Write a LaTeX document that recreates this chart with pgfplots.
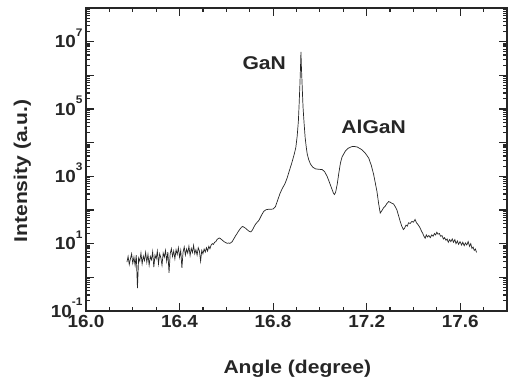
\documentclass[border=0pt]{standalone}
\usepackage{fontspec}
\setmainfont{Liberation Sans}
\newfontfamily\labfont{Liberation Sans}[FakeStretch=1.14]
\newfontfamily\tickfont{Liberation Sans}[FakeStretch=1.08]
\usepackage{pgfplots}
\usepackage{pgfplotstable}
\pgfplotsset{compat=1.18}
\pgfplotstableread{
x y
16.175 2.82
16.180 4.17
16.185 2.40
16.190 3.55
16.195 5.01
16.200 2.63
16.205 3.98
16.210 2.24
16.215 4.57
16.220 0.48
16.225 3.80
16.230 3.02
16.235 5.25
16.240 2.51
16.245 4.27
16.250 3.16
16.255 5.50
16.260 2.82
16.265 4.79
16.270 2.29
16.275 4.17
16.280 3.31
16.285 5.75
16.290 2.00
16.295 4.57
16.300 3.55
16.305 6.03
16.310 2.51
16.315 5.01
16.320 3.80
16.325 2.29
16.330 5.25
16.335 3.98
16.340 6.31
16.345 3.02
16.350 5.62
16.355 1.35
16.360 5.01
16.365 7.08
16.370 4.17
16.375 6.03
16.380 3.55
16.385 6.61
16.390 4.79
16.395 7.59
16.400 3.98
16.405 6.31
16.410 1.91
16.415 5.62
16.420 7.94
16.425 4.57
16.430 6.92
16.435 5.25
16.440 8.32
16.445 4.47
16.450 7.24
16.455 5.50
16.460 8.91
16.465 5.01
16.470 6.61
16.475 4.57
16.480 7.59
16.485 6.03
16.490 3.02
16.495 6.31
16.500 5.01
16.505 6.92
16.510 5.62
16.515 7.59
16.520 6.03
16.525 8.32
16.530 7.08
16.535 9.12
16.540 10.0
16.545 9.55
16.550 11.0
16.555 11.5
16.560 13.2
16.565 14.1
16.570 14.8
16.575 14.1
16.580 13.2
16.585 12.3
16.590 11.5
16.595 11.0
16.600 10.5
16.605 10.2
16.610 10.5
16.615 10.2
16.620 10.7
16.625 11.5
16.630 13.2
16.635 15.1
16.640 17.4
16.645 19.5
16.650 22.4
16.655 25.1
16.660 28.2
16.665 30.9
16.670 32.4
16.675 30.9
16.680 29.5
16.685 27.5
16.690 25.7
16.695 24.0
16.700 22.9
16.705 22.4
16.710 24.5
16.715 28.2
16.720 33.1
16.725 38.0
16.730 41.7
16.735 45.7
16.740 50.1
16.750 69.2
16.760 91.2
16.770 102
16.780 105
16.790 105
16.800 107
16.810 126
16.820 200
16.830 316
16.840 447
16.850 589
16.860 891
16.870 1514
16.880 2512
16.890 4467
16.897 7079
16.903 15850
16.908 43650
16.911 125900
16.914 416900
16.917 1585000
16.919 5012000
16.921 1778000
16.923 794300
16.925 354800
16.928 112200
16.932 41690
16.937 14130
16.942 7079
16.946 4571
16.952 3162
16.960 2291
16.970 1862
16.982 1660
16.995 1622
17.010 1585
17.020 1380
17.031 1000
17.042 631
17.052 407
17.058 316
17.062 288
17.067 331
17.074 575
17.081 1259
17.088 2512
17.095 3802
17.109 5623
17.120 6761
17.135 7586
17.145 7762
17.160 7413
17.180 6166
17.195 4786
17.209 3467
17.220 2089
17.230 1122
17.237 631
17.244 355
17.251 158
17.258 81.3
17.265 95.5
17.272 115
17.280 132
17.287 158
17.294 178
17.301 170
17.308 158
17.315 151
17.322 126
17.329 102
17.336 69.2
17.343 46.8
17.350 33.1
17.357 26.3
17.362 28.8
17.368 35.5
17.374 33.1
17.379 41.7
17.386 39.8
17.393 45.7
17.400 43.7
17.407 52.5
17.413 41.7
17.418 38.0
17.424 33.1
17.429 28.8
17.434 24.0
17.440 20.0
17.445 16.6
17.450 14.5
17.455 18.2
17.460 15.8
17.466 17.4
17.472 15.1
17.478 18.2
17.484 16.6
17.490 20.0
17.495 18.2
17.500 21.9
17.505 19.1
17.511 20.0
17.516 16.6
17.522 17.4
17.528 13.8
17.533 15.1
17.539 12.6
17.544 13.8
17.549 11.0
17.555 13.2
17.560 11.5
17.566 13.8
17.571 11.0
17.577 13.2
17.582 10.0
17.588 12.0
17.593 9.55
17.599 11.5
17.606 9.12
17.611 11.0
17.617 8.71
17.622 10.5
17.628 9.12
17.634 11.5
17.640 8.32
17.645 10.0
17.650 7.24
17.655 7.94
17.660 6.31
17.665 6.92
17.670 5.50
}\xrdtable
\newcommand\ex[1]{10\raisebox{0.66em}[0pt][0pt]{\fontsize{11}{11}\selectfont #1}}
\begin{document}
\begin{tikzpicture}
\begin{axis}[
  scale only axis, width=421pt, height=303pt,
  xmin=16, xmax=17.8, ymode=log, ymin=1e-1, ymax=1e8,
  axis lines=box,
  xtick={16,16.4,16.8,17.2,17.6},
  xticklabels={16.0,16.4,16.8,17.2,17.6},
  minor x tick num=3,
  ytick={1e-1,1e0,1e1,1e2,1e3,1e4,1e5,1e6,1e7,1e8},
  yticklabels={\ex{-1},,\ex{1},,\ex{3},,\ex{5},,\ex{7},},
  tick align=inside,
  major tick length=8pt, minor tick length=4pt,
  tick style={line width=1.2pt, black!85},
  axis line style={line width=1.2pt, black!85},
  tick label style={font=\tickfont\bfseries\fontsize{17.5}{18}\selectfont, text=black!85},
  xticklabel style={yshift=-1pt},
  label style={font=\labfont\bfseries\fontsize{18.5}{20}\selectfont, text=black!85},
  xlabel={Angle (degree)},
  ylabel={Intensity (a.u.)},
  xlabel style={at={(axis description cs:0.502,-0.205)}, anchor=base},
  ylabel style={at={(axis description cs:-0.140,0.462)}, anchor=base},
]
\addplot[black!85, line width=0.7pt] table[x=x, y=y] {\xrdtable};
\node[font=\labfont\bfseries\fontsize{18.5}{20}\selectfont, text=black!85] at (axis cs:16.762,2.24e6) {GaN};
\node[font=\labfont\bfseries\fontsize{18.5}{20}\selectfont, text=black!85] at (axis cs:17.23,3.0e4) {AlGaN};
\end{axis}
% frame ticks (inward, all four sides), in the axis box's own frame
\begin{scope}[shift={(current axis.south west)}, x=1pt, y=1pt, line width=1.2pt, black!85]
  \foreach \k in {1,2,3,5,6,7,9,10,11,13,14,15,17} {
    \draw ({421*\k/18},0) -- ++(0,4);
    \draw ({421*\k/18},303) -- ++(0,-4);
  }
  \foreach \k in {4,8,12,16} {
    \draw ({421*\k/18},0) -- ++(0,8);
    \draw ({421*\k/18},303) -- ++(0,-8);
  }
  \foreach \e in {1,...,8} {
    \draw (0,{303*\e/9}) -- ++(8,0);
    \draw (421,{303*\e/9}) -- ++(-8,0);
  }
  \foreach \e in {0,...,8} {
    \foreach \m in {2,...,9} {
      \draw (0,{303*(\e+ln(\m)/ln(10))/9}) -- ++(4,0);
      \draw (421,{303*(\e+ln(\m)/ln(10))/9}) -- ++(-4,0);
    }
  }
\end{scope}
\pgfresetboundingbox
\path ([shift={(-86pt,-71pt)}]current axis.south west) rectangle ([shift={(2pt,8pt)}]current axis.north east);
\end{tikzpicture}
\end{document}
